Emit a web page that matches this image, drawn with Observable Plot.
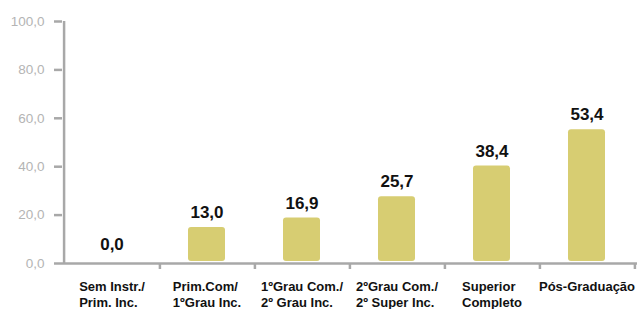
<!DOCTYPE html>
<html>
<head>
<meta charset="utf-8">
<script src="https://cdn.jsdelivr.net/npm/d3@7"></script>
<script src="https://cdn.jsdelivr.net/npm/@observablehq/plot@0.6"></script>
<style>
  html, body { margin: 0; padding: 0; background: #fff; }
  #chart svg { display: block; }
</style>
</head>
<body>
<div id="chart"></div>
<script>
const categories = [
  "Sem Instr./\nPrim. Inc.",
  "Prim.Com/\n1ºGrau Inc.",
  "1ºGrau Com./\n2º Grau Inc.",
  "2ºGrau Com./\n2º Super Inc.",
  "Superior\nCompleto",
  "Pós-Graduação"
];
const values = [0.0, 13.0, 16.9, 25.7, 38.4, 53.4];
const yTicks = [0, 20, 40, 60, 80, 100];

const data = categories.map((c, i) => ({cat: c, value: values[i]}));
const fmt = v => v.toFixed(1).replace(".", ",");

const W = 639, H = 309, ML = 62, MR = 2, MT = 21, MB = 46;
const step = (W - ML - MR) / categories.length;
const axisColor = "#a8a8a8";
const labelFont = "bold 13px 'Liberation Sans', Arial, sans-serif";

// measure widest line per category so the lines can be left-aligned in a centred block
const ctx = document.createElement("canvas").getContext("2d");
ctx.font = labelFont;
const blockW = categories.map(c => d3.max(c.split("\n"), l => ctx.measureText(l).width));

const labelMarks = categories.map((c, i) =>
  Plot.text([c], {
    x: d => d, y: 0, text: d => d,
    textAnchor: "start", lineAnchor: "top", lineHeight: 1.18,
    dx: -blockW[i] / 2, dy: 17,
    fontSize: 13, fontWeight: "bold", fill: "#111"
  })
);

const chart = Plot.plot({
  width: W, height: H,
  marginLeft: ML, marginRight: MR, marginTop: MT, marginBottom: MB,
  style: {fontFamily: "'Liberation Sans', Arial, sans-serif", background: "#fff"},
  x: {domain: categories, paddingInner: 0.61, paddingOuter: 0.305, axis: null},
  y: {domain: [0, 100], axis: null},
  marks: [
    Plot.barY(data.filter(d => d.value > 0), {
      x: "cat", y: "value", fill: "#d7cd72", rx: 3,
      insetTop: -4.5, insetBottom: 2
    }),
    Plot.ruleX([0], {x: () => categories[0], y1: 0, y2: 100, dx: -step / 2, stroke: axisColor, strokeWidth: 2.5}),
    Plot.ruleY([0], {stroke: axisColor, strokeWidth: 2.5}),
    Plot.ruleX(categories, {x: d => d, y1: 0, y2: 0, dx: step / 2, insetBottom: -6, stroke: axisColor, strokeWidth: 2.5}),
    Plot.axisY({
      ticks: yTicks, tickFormat: fmt, tickSize: 8, tickPadding: 10,
      stroke: axisColor, strokeWidth: 2.5, fill: "#b4b4b4", fontSize: 13.5,
      label: null
    }),
    Plot.text(data, {
      x: "cat", y: "value", text: d => fmt(d.value),
      lineAnchor: "bottom", dy: -14,
      fontSize: 17, fontWeight: "bold", fill: "#111",
      style: "letter-spacing:1px"
    }),
    ...labelMarks
  ]
});

document.getElementById("chart").appendChild(chart);
</script>
</body>
</html>
